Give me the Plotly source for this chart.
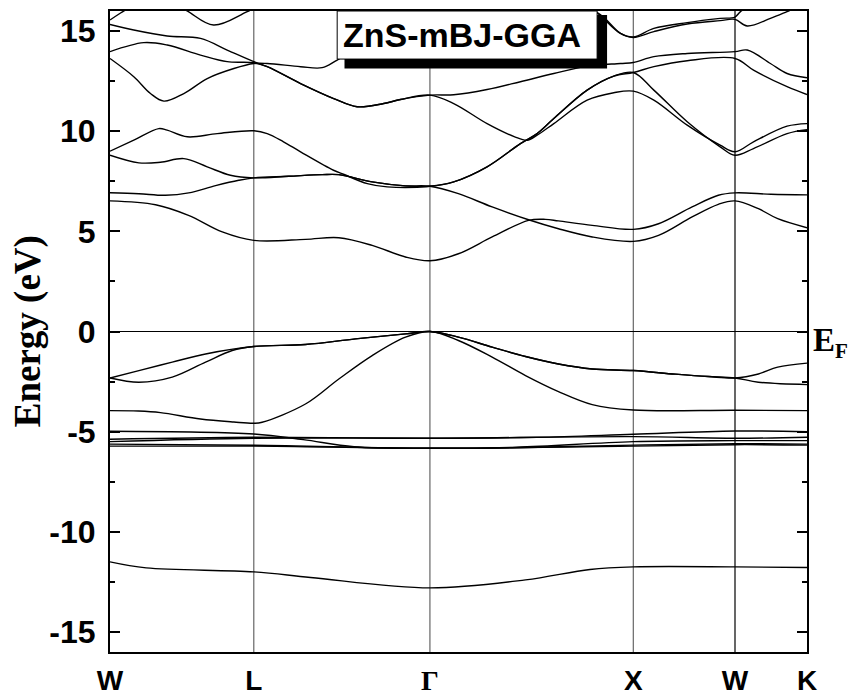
import plotly.graph_objects as go

# High-symmetry points along the fcc path W-L-Γ-X-W-K (units of 2π/a)
KPT_POS = [0.0, 0.707, 1.573, 2.573, 3.073, 3.427]
KPT_LABELS = ["W", "L", "Γ", "X", "W", "K"]

# S 3s band
s_k = [0, 0.178, 0.707, 0.986, 1.573, 2.043, 2.36, 2.573, 3.073, 3.427]
s_e = [-11.5, -11.8, -12.0, -12.28, -12.8, -12.4, -11.88, -11.75, -11.75, -11.78]

# Zn 3d manifold
d1_k = [0, 0.707, 0.95, 1.2, 1.573, 2.0, 2.573, 3.073, 3.427]
d1_e = [-4.98, -5.12, -5.4, -5.75, -5.83, -5.78, -5.5, -5.45, -5.45]
d2_k = [0, 0.707, 1.573, 2.1, 2.573, 3.073, 3.427]
d2_e = [-5.38, -5.28, -5.33, -5.28, -5.13, -4.97, -5.0]
d3_k = [0, 0.707, 1.573, 2.573, 3.073, 3.427]
d3_e = [-5.5, -5.33, -5.33, -5.25, -5.33, -5.28]
d4_k = [0, 0.707, 1.573, 2.0, 2.573, 3.073, 3.427]
d4_e = [-5.62, -5.68, -5.83, -5.8, -5.67, -5.6, -5.62]
d5_k = [0, 0.707, 1.573, 2.573, 3.073, 3.427]
d5_e = [-5.72, -5.72, -5.83, -5.72, -5.65, -5.67]

# S 3p valence bands
v1_k = [0, 0.14, 0.248, 0.445, 0.609, 0.707, 0.748, 0.961, 1.125, 1.289, 1.453, 1.573,
        1.713, 1.879, 2.043, 2.205, 2.371, 2.573, 3.073, 3.427]
v1_e = [-3.95, -3.97, -4.05, -4.37, -4.52, -4.58, -4.53, -3.62, -2.37, -1.2, -0.28, 0.0,
        -0.45, -1.28, -2.2, -3.0, -3.65, -3.92, -3.93, -3.95]
v2_k = [0, 0.142, 0.306, 0.47, 0.601, 0.707, 0.961, 1.207, 1.453, 1.573, 1.713, 1.879,
        2.043, 2.205, 2.371, 2.573, 2.78, 2.942, 3.073, 3.188, 3.427]
v2_e = [-2.32, -2.53, -2.28, -1.53, -0.95, -0.75, -0.65, -0.37, -0.12, 0.0, -0.28, -0.78,
        -1.25, -1.62, -1.87, -1.95, -2.13, -2.25, -2.32, -2.53, -2.65]
v3_k = [0, 0.142, 0.306, 0.47, 0.707, 0.961, 1.207, 1.453, 1.573, 1.713, 1.879, 2.043,
        2.205, 2.371, 2.573, 2.78, 2.942, 3.073, 3.188, 3.283, 3.427]
v3_e = [-2.32, -1.95, -1.53, -1.12, -0.75, -0.65, -0.37, -0.12, 0.0, -0.28, -0.78, -1.25,
        -1.62, -1.87, -1.95, -2.13, -2.25, -2.32, -2.12, -1.78, -1.58]

# Conduction bands
c1_k = [0, 0.224, 0.386, 0.552, 0.707, 0.961, 1.125, 1.289, 1.453, 1.573, 1.713, 1.879,
        2.058, 2.141, 2.205, 2.371, 2.573, 2.697, 2.862, 2.991, 3.073, 3.25, 3.427]
c1_e = [6.52, 6.33, 5.8, 4.97, 4.55, 4.6, 4.68, 4.3, 3.72, 3.53, 3.88, 4.72,
        5.55, 5.6, 5.52, 5.3, 5.1, 5.38, 6.22, 6.8, 6.92, 6.85, 6.82]
c2_k = [0, 0.142, 0.273, 0.387, 0.519, 0.633, 0.707, 0.879, 1.043, 1.125, 1.289, 1.453,
        1.573, 1.713, 1.879, 2.058, 2.205, 2.371, 2.573, 2.697, 2.862, 2.991, 3.073, 3.188,
        3.283, 3.427]
c2_e = [6.93, 6.88, 6.8, 6.92, 7.28, 7.55, 7.67, 7.75, 7.83, 7.83, 7.47, 7.27,
        7.25, 6.88, 6.22, 5.58, 5.13, 4.72, 4.5, 4.8, 5.72, 6.35, 6.52, 6.13,
        5.63, 5.18]
c3_k = [0, 0.142, 0.248, 0.363, 0.478, 0.592, 0.707, 0.879, 1.043, 1.125, 1.289, 1.453,
        1.573, 1.69, 1.854, 2.018, 2.1, 2.182, 2.346, 2.477, 2.573, 2.674, 2.838, 3.073,
        3.164, 3.329, 3.427]
c3_e = [8.8, 8.42, 8.45, 8.63, 8.22, 7.8, 7.67, 7.75, 7.83, 7.83, 7.47, 7.27,
        7.25, 7.47, 8.22, 9.38, 9.88, 10.63, 12.05, 12.75, 12.93, 13.22, 13.52, 13.63,
        13.05, 12.22, 11.83]
c4_k = [0, 0.117, 0.24, 0.281, 0.38, 0.527, 0.707, 0.773, 0.853, 0.937, 1.099, 1.148,
        1.265, 1.363, 1.573, 1.69, 1.854, 2.018, 2.1, 2.182, 2.346, 2.477, 2.573, 2.674,
        2.838, 3.0, 3.073, 3.164, 3.329, 3.427]
c4_e = [9.0, 9.55, 10.13, 10.05, 9.72, 9.88, 10.02, 9.88, 9.47, 8.97, 8.05, 7.85,
        7.38, 7.22, 7.25, 7.47, 8.22, 9.38, 9.88, 10.63, 12.05, 12.75, 12.93, 12.05,
        10.47, 9.22, 8.8, 9.13, 9.88, 10.08]
c5_k = [0, 0.166, 0.281, 0.445, 0.576, 0.707, 0.773, 0.937, 1.1, 1.215, 1.346, 1.428,
        1.573, 1.69, 1.854, 1.99, 2.051, 2.1, 2.182, 2.346, 2.477, 2.573, 2.674, 2.838,
        3.0, 3.073, 3.164, 3.329, 3.427]
c5_e = [13.97, 14.42, 14.3, 13.8, 13.47, 13.42, 13.22, 12.38, 11.63, 11.22, 11.38, 11.58,
        11.8, 11.38, 10.38, 9.72, 9.55, 9.8, 10.38, 11.55, 11.92, 12.0, 11.55, 10.3,
        9.3, 8.97, 9.47, 10.25, 10.38]
c6_k = [0, 0.117, 0.281, 0.445, 0.576, 0.707, 0.773, 0.937, 1.1, 1.215, 1.346, 1.428,
        1.573, 1.69, 1.854, 2.018, 2.182, 2.346, 2.51, 2.573, 2.674, 2.838, 3.073, 3.133,
        3.247, 3.329, 3.427]
c6_e = [15.33, 15.05, 14.75, 14.63, 14.05, 13.47, 13.22, 12.38, 11.63, 11.22, 11.38, 11.58,
        11.8, 11.82, 12.08, 12.47, 12.88, 13.25, 13.38, 13.43, 13.72, 13.88, 13.97, 14.05,
        13.38, 12.88, 12.67]
c7_k = [0, 0.117, 0.199, 0.265, 0.363, 0.478, 0.609, 0.707, 0.773, 0.937, 1.043, 1.117,
        1.3, 1.573, 1.9, 2.2, 2.397, 2.51, 2.573, 2.674, 2.838, 3.0, 3.073, 3.133, 3.247,
        3.329, 3.427]
c7_e = [13.63, 12.72, 11.88, 11.5, 11.88, 12.63, 13.13, 13.38, 13.38, 13.22, 13.17, 13.55,
        14.6, 15.3, 15.8, 16.3, 15.9, 14.88, 14.68, 14.97, 15.35, 15.52, 15.58, 15.25, 15.63,
        15.97, 16.4]
c8_k = [2.3, 2.397, 2.51, 2.573, 2.674, 2.838, 3.0, 3.073, 3.1, 3.2]
c8_e = [16.6, 15.9, 14.88, 14.7, 15.13, 15.42, 15.63, 15.7, 15.97, 16.6]
c9_k = [0, 0.052, 0.15]
c9_e = [15.55, 15.9, 16.5]
c10_k = [0.25, 0.371, 0.509, 0.675, 0.8]
c10_e = [16.6, 16.05, 15.3, 15.97, 16.6]

E_RANGE = [-16, 16]
MAJOR_TICKS = [-15, -10, -5, 0, 5, 10, 15]
MINOR_TICKS = [-12.5, -7.5, -2.5, 2.5, 7.5, 12.5]

bands = [
    (s_k, s_e), (d1_k, d1_e), (d2_k, d2_e), (d3_k, d3_e), (d4_k, d4_e), (d5_k, d5_e),
    (v1_k, v1_e), (v2_k, v2_e), (v3_k, v3_e),
    (c1_k, c1_e), (c2_k, c2_e), (c3_k, c3_e), (c4_k, c4_e), (c5_k, c5_e),
    (c6_k, c6_e), (c7_k, c7_e), (c8_k, c8_e), (c9_k, c9_e), (c10_k, c10_e),
]

SANS = "Liberation Sans, Arial, sans-serif"
SERIF = "Liberation Serif, Times New Roman, serif"

fig = go.Figure()
for bk, be in bands:
    fig.add_trace(go.Scatter(
        x=bk, y=be, mode="lines",
        line=dict(color="black", width=1.4, shape="spline", smoothing=1.0),
        hoverinfo="skip", showlegend=False,
    ))

shapes = []
# vertical guides at the high-symmetry points
for kp, col in zip(KPT_POS[1:5], ["#666666", "#666666", "#666666", "black"]):
    shapes.append(dict(type="line", xref="x", yref="y", x0=kp, x1=kp,
                       y0=E_RANGE[0], y1=E_RANGE[1], layer="below",
                       line=dict(color=col, width=1.2)))
# Fermi level
shapes.append(dict(type="line", xref="x", yref="y", x0=KPT_POS[0], x1=KPT_POS[-1],
                   y0=0, y1=0, layer="below", line=dict(color="black", width=1)))
# title box with drop shadow
shapes.append(dict(type="rect", xref="x", yref="y", x0=1.153, x1=2.444, y0=13.13, y1=15.8,
                   fillcolor="black", line=dict(width=0), layer="above"))
shapes.append(dict(type="rect", xref="x", yref="y", x0=1.117, x1=2.395, y0=13.6, y1=16.0,
                   fillcolor="white", line=dict(color="black", width=1), layer="above"))

tick_text = [t if t != "Γ" else f"<span style='font-family:{SERIF}'>Γ</span>" for t in KPT_LABELS]

fig.update_layout(
    width=852, height=695,
    margin=dict(l=110, r=45, t=11, b=43, autoexpand=False),
    paper_bgcolor="white", plot_bgcolor="white",
    shapes=shapes,
    xaxis=dict(
        range=[KPT_POS[0], KPT_POS[-1]], tickvals=KPT_POS, ticktext=tick_text,
        showgrid=False, zeroline=False, ticks="", automargin=False,
        showline=True, linecolor="black", linewidth=2, mirror=True,
        ticklabelstandoff=2,
        tickfont=dict(family=SANS, size=28, color="black", weight="bold"),
    ),
    yaxis=dict(
        range=E_RANGE, tickvals=MAJOR_TICKS, ticktext=[str(v) for v in MAJOR_TICKS],
        showgrid=False, zeroline=False, automargin=False,
        ticks="inside", ticklen=10, tickwidth=2, tickcolor="black",
        showline=True, linecolor="black", linewidth=2, mirror="allticks",
        ticklabelstandoff=6,
        tickfont=dict(family=SANS, size=32, color="black", weight="bold"),
        minor=dict(tickvals=MINOR_TICKS, ticks="inside", ticklen=5, tickwidth=2,
                   tickcolor="black", showgrid=False),
    ),
    annotations=[
        dict(text="ZnS-mBJ-GGA", xref="x", yref="y", x=1.733, y=14.8,
             showarrow=False, font=dict(family=SANS, size=34, color="black", weight="bold")),
        dict(text="Energy (eV)", xref="paper", yref="paper", x=-0.118, y=0.5,
             textangle=-90, showarrow=False, xanchor="center", yanchor="middle",
             font=dict(family=SERIF, size=37, color="black", weight="bold")),
        dict(text="E<sub><span style='font-size:21px'>F</span></sub>",
             xref="paper", yref="y", x=1.006, y=-0.55,
             xanchor="left", yanchor="middle", showarrow=False,
             font=dict(family=SERIF, size=33, color="black", weight="bold")),
    ],
)

fig.write_html("out.html")
